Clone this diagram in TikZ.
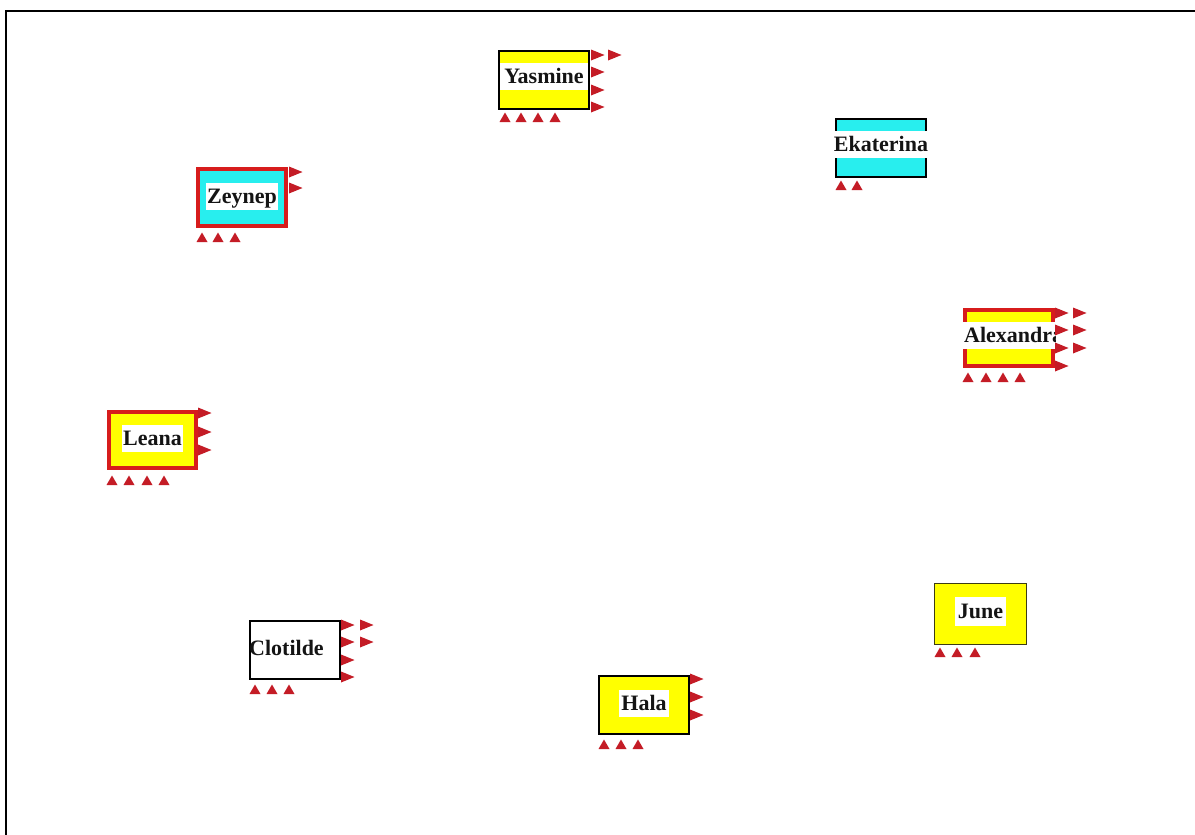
\documentclass[tikz,border=0pt]{standalone}
\usepackage{fontspec}
\setmainfont{Liberation Serif}
\definecolor{tric}{RGB}{196,28,38}
\definecolor{redb}{RGB}{215,28,28}
\definecolor{yel}{RGB}{255,255,0}
\definecolor{cya}{RGB}{40,238,238}
\definecolor{txt}{RGB}{20,20,20}
\definecolor{olive}{RGB}{60,60,20}
\newcommand{\rtri}[2]{\fill[tric] (#1,#2-5.5) -- (#1+13.5,#2) -- (#1,#2+5.5) -- cycle;}
\newcommand{\utri}[2]{\fill[tric] (#1-5.5,#2) -- (#1,#2-9.5) -- (#1+5.5,#2) -- cycle;}
\begin{document}
\begin{tikzpicture}[x=1pt,y=-1pt,
  box/.style={rectangle,inner sep=0pt,line width=2pt,draw=black},
  redbox/.style={box,line width=4pt,draw=redb},
  lbl/.style={fill=white,inner xsep=2pt,inner ysep=3pt,text height=17pt,text depth=4pt,
    text=txt,font=\fontsize{22}{23}\selectfont\bfseries}]
\useasboundingbox (0,0) rectangle (1195,835);
\fill[white] (0,0) rectangle (1195,835);
\draw[line width=2.5pt] (6,835) -- (6,11) -- (1195,11);

% Yasmine
\node[box,fill=yel,minimum width=90,minimum height=58] (yasmine) at (544,80) {};
\node[lbl,minimum width=88] (yasminel) at ([yshift=3.5]yasmine.center) {Yasmine};
\foreach \y in {55,72,90,107} {\rtri{591}{\y}}
\rtri{608}{55}
\foreach \x in {505,521,538,555} {\utri{\x}{122}}

% Ekaterina
\node[box,fill=cya,minimum width=90,minimum height=58] (ekaterina) at (881,148) {};
\node[lbl,inner xsep=1pt] (ekaterinal) at ([yshift=3.5]ekaterina.center) {Ekaterina};
\foreach \x in {841,857} {\utri{\x}{190}}

% Zeynep
\node[redbox,fill=cya,minimum width=88,minimum height=57] (zeynep) at (242,197.5) {};
\node[lbl,inner xsep=1.5pt] (zeynepl) at ([yshift=1]zeynep.center) {Zeynep};
\foreach \y in {172,188} {\rtri{289}{\y}}
\foreach \x in {202,218,235} {\utri{\x}{242}}

% Alexandra
\node[redbox,fill=yel,minimum width=88,minimum height=56] (alexandra) at (1009,338) {};
\begin{scope}
\clip (963,300) rectangle (1055,375);
\node[lbl,anchor=west,inner xsep=1pt] (alexandral) at ([yshift=2.5]alexandra.west) {Alexandra};
\end{scope}
\foreach \y in {313,330,348,366} {\rtri{1055}{\y}}
\foreach \y in {313,330,348} {\rtri{1073}{\y}}
\foreach \x in {968,986,1003,1020} {\utri{\x}{382}}

% Leana
\node[redbox,fill=yel,minimum width=87,minimum height=56] (leana) at (152.5,440) {};
\node[lbl,inner xsep=1.5pt] (leanal) at ([yshift=1.5]leana.center) {Leana};
\foreach \y in {413,432,450} {\rtri{198}{\y}}
\foreach \x in {112,129,147,164} {\utri{\x}{485}}

% Clotilde
\node[box,fill=white,minimum width=90,minimum height=58] (clotilde) at (295,650) {};
\node[lbl,fill=none,anchor=west,inner xsep=0pt] (clotildel) at ([yshift=1.5]clotilde.west) {Clotilde};
\foreach \y in {625,642,660,677} {\rtri{341}{\y}}
\foreach \y in {625,642} {\rtri{360}{\y}}
\foreach \x in {255,272,289} {\utri{\x}{694}}

% Hala
\node[box,fill=yel,minimum width=90,minimum height=58] (hala) at (644,705) {};
\node[lbl] (halal) at ([yshift=1.5]hala.center) {Hala};
\foreach \y in {679,697,715} {\rtri{690}{\y}}
\foreach \x in {604,621,638} {\utri{\x}{749}}

% June
\node[box,fill=yel,line width=1pt,draw=olive,minimum width=92,minimum height=61] (june) at (980.5,614) {};
\node[lbl,inner xsep=3pt,inner ysep=4pt] (junel) at ([yshift=2.5]june.center) {June};
\foreach \x in {940,957,975} {\utri{\x}{657}}
\end{tikzpicture}
\end{document}
